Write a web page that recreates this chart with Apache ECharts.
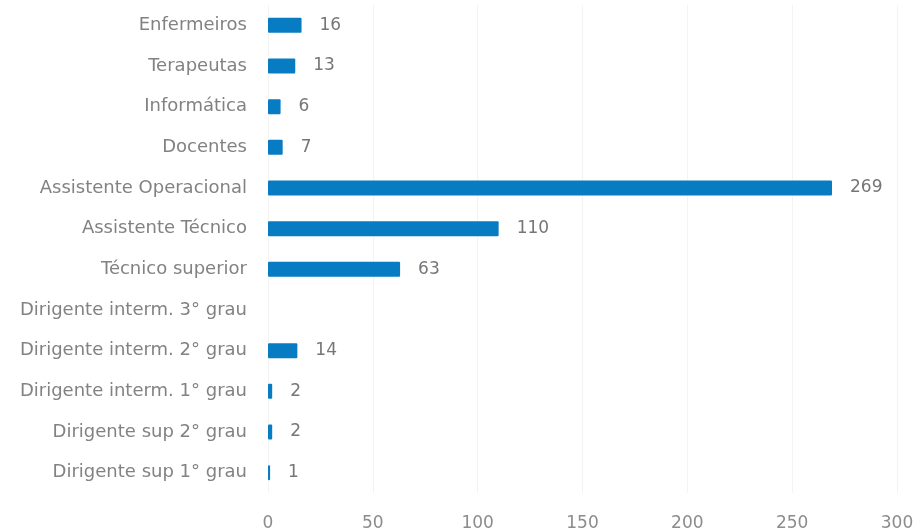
<!DOCTYPE html>
<html>
<head>
<meta charset="utf-8">
<script src="https://cdn.jsdelivr.net/npm/echarts@6/dist/echarts.min.js"></script>
<style>
  html, body { margin: 0; padding: 0; background: #fff; }
  #chart { width: 921px; height: 532px; }
</style>
</head>
<body>
<div id="chart"></div>
<script>
// categories listed bottom to top (ECharts draws the y category axis from the bottom)
const categories = [
  'Dirigente sup 1° grau',
  'Dirigente sup 2° grau',
  'Dirigente interm. 1° grau',
  'Dirigente interm. 2° grau',
  'Dirigente interm. 3° grau',
  'Técnico superior',
  'Assistente Técnico',
  'Assistente Operacional',
  'Docentes',
  'Informática',
  'Terapeutas',
  'Enfermeiros'
]
const values = [1, 2, 2, 14, null, 63, 110, 269, 7, 6, 13, 16]
const xTicks = [0, 50, 100, 150, 200, 250, 300]

const myChart = echarts.init(document.getElementById('chart'))

const option = {
  animation: false,
  textStyle: { fontFamily: '"DejaVu Sans", sans-serif' },
  grid: {
    left: 268,
    right: 24,
    top: 5,
    bottom: 39
  },
  xAxis: {
    type: 'value',
    min: xTicks[0],
    max: xTicks[xTicks.length - 1],
    interval: 50,
    axisLine: { show: false },
    axisTick: { show: false },
    splitLine: { lineStyle: { color: '#f3f3f3', width: 1 } },
    axisLabel: { color: '#8c8c8c', fontSize: 17, margin: 22 }
  },
  yAxis: {
    type: 'category',
    data: categories,
    axisLine: { show: false },
    axisTick: { show: false },
    axisLabel: { color: '#828282', fontSize: 18, margin: 21 }
  },
  series: [
    {
      type: 'bar',
      data: values,
      barWidth: 15,
      itemStyle: { color: '#087cc2', borderRadius: 1 },
      label: {
        show: true,
        position: 'right',
        distance: 18,
        color: '#767676',
        fontSize: 17
      }
    }
  ]
}

myChart.setOption(option)
</script>
</body>
</html>
